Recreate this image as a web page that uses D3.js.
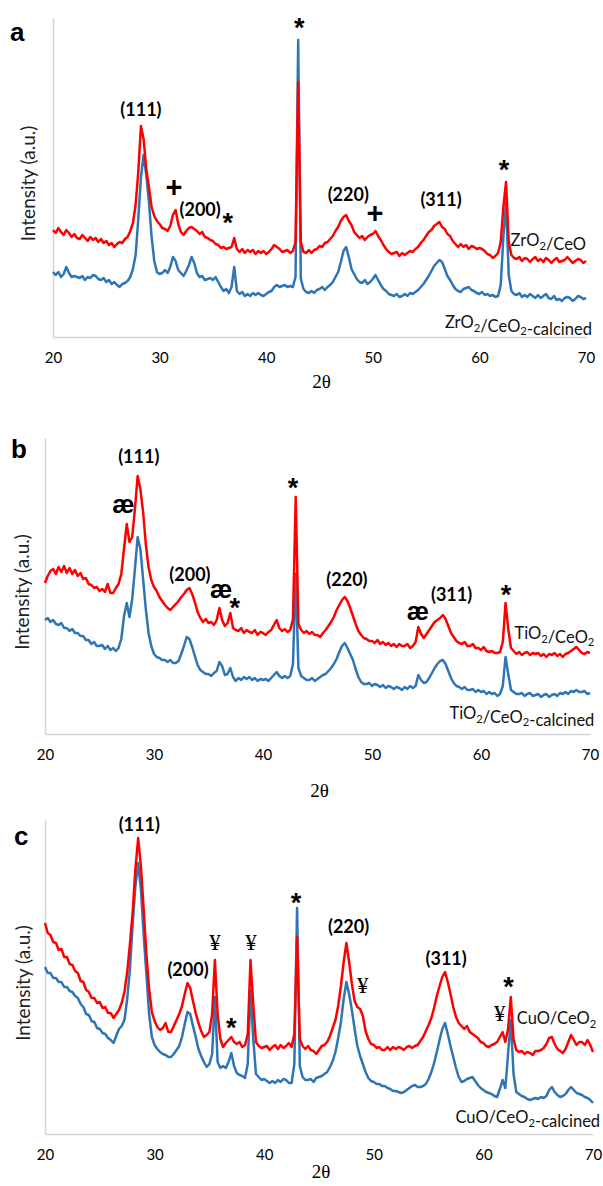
<!DOCTYPE html>
<html>
<head>
<meta charset="utf-8">
<script src="https://cdn.jsdelivr.net/npm/d3@7"></script>
<style>
  body { margin: 0; background: #fff; }
  svg { display: block; }
</style>
</head>
<body>
<svg id="chart" width="603" height="1186"></svg>
<script>
// 2-theta sampling grid, 20..70 every 0.25 degree
const twoTheta = d3.range(0, 201).map(i => 20 + i * 0.25);
const xTicks = [20, 30, 40, 50, 60, 70];

// panel a
const redA = [
  107,104,109,105,102,107,104,100,103,99,98,102,99,96,100,97,99,95,98,94,
  96,92,94,90,93,95,94,98,100,106,114,132,165,211,198,168,150,130,121,116,
  113,109,108,106,111,122,127,113,105,102,106,109,110,108,106,103,105,100,99,97,
  96,93,92,89,90,88,89,90,99,88,85,88,84,87,85,87,83,86,84,86,
  83,85,88,92,90,88,85,86,87,84,86,95,255,95,85,84,87,84,87,88,
  91,90,94,95,98,101,106,110,116,120,122,116,112,105,102,99,101,97,100,102,
  103,106,101,97,92,88,85,83,84,85,81,84,82,84,86,85,88,90,94,97,
  101,105,107,111,113,115,110,108,103,101,96,93,90,93,90,92,88,91,90,88,
  89,88,86,83,82,79,81,84,95,130,155,95,82,79,78,80,76,79,78,75,
  78,80,76,78,75,79,77,74,77,79,75,76,77,80,77,74,76,78,77,74,
  76
];
const blueA = [
  65,62,65,60,63,70,64,60,61,60,59,61,57,60,59,62,61,58,57,59,
  55,57,53,55,52,50,53,54,56,60,68,82,118,160,182,162,135,100,76,65,
  63,64,67,64,70,80,76,67,64,61,66,72,80,74,64,60,61,57,58,59,
  57,60,55,50,46,48,44,50,70,46,43,45,41,43,41,44,42,44,42,41,
  43,45,46,50,52,50,51,52,50,51,50,60,297,58,48,45,44,46,44,47,
  48,50,47,50,52,55,60,65,75,86,90,80,68,63,58,55,54,57,53,55,
  58,62,57,52,48,46,43,42,41,43,40,41,43,41,44,43,45,47,50,53,
  57,61,66,71,74,77,75,68,61,57,52,48,46,45,48,49,50,47,46,44,
  43,45,42,43,41,42,40,41,52,100,135,62,46,43,42,44,40,42,40,43,
  41,39,42,39,41,43,39,38,41,37,38,36,39,40,39,36,38,41,40,38,
  39
];

// panel b
const redB = [
  151,158,163,165,160,167,162,168,161,166,160,164,158,161,155,156,150,149,146,147,
  143,145,142,150,141,141,146,150,160,185,210,192,197,225,258,245,222,190,167,154,
  147,143,137,133,129,126,124,127,130,133,137,140,144,146,140,132,122,116,112,115,
  111,112,109,114,126,114,108,111,121,106,104,103,106,101,104,102,101,104,99,102,
  101,99,102,104,109,114,106,103,105,102,104,115,237,110,104,101,103,100,102,99,
  99,97,101,104,108,112,117,124,129,134,137,133,126,118,110,103,99,96,95,93,
  93,91,94,90,92,89,91,88,90,87,90,88,88,90,86,88,92,107,100,96,
  100,104,108,112,114,116,119,115,108,101,97,93,91,90,92,88,88,90,86,86,
  84,87,83,82,83,81,81,82,92,131,105,86,83,80,82,79,81,82,79,81,
  80,81,78,80,77,80,79,81,78,80,77,80,81,83,85,87,84,81,80,82,
  81
];
const blueB = [
  114,116,112,114,110,109,111,106,106,103,105,101,101,98,98,94,94,90,92,88,
  88,89,85,88,84,86,83,86,95,118,131,117,135,165,197,185,155,125,101,88,
  80,77,76,74,74,72,74,71,71,73,80,88,97,95,87,78,69,64,62,60,
  60,58,61,63,72,68,59,60,66,57,53,56,54,57,55,57,54,56,53,55,
  54,55,53,56,59,62,58,56,58,56,58,70,160,66,58,56,54,54,56,53,
  55,57,59,60,63,66,70,75,82,88,91,86,80,74,65,57,52,50,50,51,
  48,50,49,47,49,46,48,47,45,47,46,44,47,45,48,46,48,59,54,51,
  52,56,61,66,70,73,74,70,63,56,51,48,47,45,47,44,44,45,42,44,
  42,43,40,42,40,41,38,40,48,77,60,44,42,40,40,41,38,40,41,38,
  39,40,37,39,40,37,39,40,38,41,40,42,40,43,42,44,42,42,43,40,
  41
];

// panel c
const redC = [
  211,201,199,192,191,184,185,177,177,170,169,163,161,153,152,144,142,136,136,131,
  132,126,127,121,121,116,120,124,131,142,162,190,222,265,296,268,225,180,145,122,
  113,107,104,106,111,102,102,108,114,120,128,140,151,146,133,121,111,103,97,99,
  102,120,174,120,95,87,91,94,97,92,90,92,87,89,100,174,130,92,88,86,
  87,88,84,87,89,85,89,86,88,91,87,100,197,95,88,85,88,84,83,80,
  84,88,89,92,98,106,114,128,148,172,191,172,150,133,127,125,118,103,95,90,
  89,86,87,84,84,87,84,87,85,87,86,84,87,88,86,88,89,93,97,103,
  109,116,126,138,148,157,162,152,140,127,117,111,108,105,108,102,100,98,96,92,
  91,88,87,89,90,92,97,102,92,105,137,95,84,82,83,80,82,81,79,83,
  83,84,86,90,96,97,90,85,83,81,85,92,99,94,89,92,92,89,94,89,
  82
];
const blueC = [
  167,161,161,156,156,152,152,147,147,143,142,138,136,130,127,120,119,113,112,106,
  105,101,100,96,94,91,98,105,108,114,135,165,210,248,271,245,200,160,120,97,
  89,85,82,80,79,77,77,80,84,88,97,110,122,120,108,97,85,78,72,67,
  70,80,137,72,66,68,66,72,81,68,61,59,58,56,70,144,95,60,57,54,
  55,53,51,53,51,54,52,55,54,51,51,70,226,68,57,54,54,55,52,56,
  57,58,60,62,67,73,82,96,112,135,152,140,124,105,88,78,70,62,56,53,
  52,50,50,48,48,46,45,43,43,42,41,42,44,46,48,49,47,47,48,50,
  55,62,71,82,94,105,111,100,88,77,66,57,52,53,55,56,57,53,49,46,
  44,42,41,40,38,37,45,54,46,80,114,60,42,40,38,37,35,34,35,36,
  35,37,36,38,44,47,42,39,37,38,40,44,47,44,41,40,39,37,36,34,
  31
];

// peak markers: text, 2theta, intensity, kind
const notesA = [
  ["(111)", 28.25, 221, "hkl"], ["+", 31.35, 140, "plus"], ["(200)", 33.8, 121, "hkl"],
  ["*", 36.4, 105, "star"], ["*", 43.1, 300, "star"], ["(220)", 47.7, 136, "hkl"],
  ["+", 50.2, 114, "plus"], ["(311)", 56.4, 131, "hkl"], ["*", 62.3, 158, "star"]
];
const notesB = [
  ["(111)", 28.6, 271, "hkl"], ["æ", 27.2, 221, "ae"], ["(200)", 33.3, 153, "hkl"],
  ["æ", 36.15, 136, "ae"], ["*", 37.4, 117, "star"], ["*", 42.75, 237, "star"],
  ["(220)", 47.7, 148, "hkl"], ["æ", 54.2, 114, "ae"], ["(311)", 57.3, 133, "hkl"],
  ["*", 62.3, 130, "star"]
];
const notesC = [
  ["(111)", 28.6, 303, "hkl"], ["(200)", 33.05, 158, "hkl"], ["¥", 35.5, 184, "yen"],
  ["¥", 38.8, 184, "yen"], ["*", 37.0, 97, "star"], ["*", 42.9, 222, "star"],
  ["(220)", 47.7, 201, "hkl"], ["¥", 49.0, 141, "yen"], ["(311)", 56.6, 169, "hkl"],
  ["¥", 61.5, 113, "yen"], ["*", 62.3, 138, "star"]
];

const panels = [
  { letter: "a", red: redA, blue: blueA, notes: notesA,
    left: 53, right: 586, top: 18, bottom: 337, letterY: 41, letterX: 10, ylabX: 28, xlabY: 388,
    redName: "ZrO_2/CeO", blueName: "ZrO_2/CeO_2-calcined", redLab: [70.0, 91], blueLab: [70.56, 9] },
  { letter: "b", red: redB, blue: blueB, notes: notesB,
    left: 45, right: 590, top: 438, bottom: 734, letterY: 458, letterX: 11, ylabX: 22, xlabY: 797,
    redName: "TiO_2/CeO_2", blueName: "TiO_2/CeO_2-calcined", redLab: [70.4, 95], blueLab: [70.4, 15] },
  { letter: "c", red: redC, blue: blueC, notes: notesC,
    left: 45, right: 593, top: 820, bottom: 1134, letterY: 845, letterX: 14, ylabX: 23, xlabY: 1178,
    redName: "CuO/CeO_2", blueName: "CuO/CeO_2-calcined", redLab: [70.3, 110], blueLab: [70.65, 11] }
];

const svg = d3.select("#chart");
const sans = "Lato, 'Open Sans', sans-serif";

// writes "ZrO_2" style labels with subscript digits
function subText(sel, str, size) {
  str.split(/(_\d)/).filter(s => s).forEach(part => {
    if (part[0] === "_") {
      sel.append("tspan").attr("font-size", size * 0.68).attr("dy", size * 0.22).text(part[1]);
      sel.append("tspan").attr("dy", -size * 0.22).text("");
    } else {
      sel.append("tspan").text(part);
    }
  });
}

const noteStyle = {
  hkl:  { font: sans, size: 18, weight: "bold" },
  plus: { font: "'Liberation Sans', Arial, sans-serif", size: 29, weight: "bold" },
  star: { font: "'Liberation Sans', Arial, sans-serif", size: 27, weight: "bold" },
  ae:   { font: "'Liberation Sans', Arial, sans-serif", size: 25, weight: "bold" },
  yen:  { font: "'Liberation Serif', 'DejaVu Serif', serif", size: 23, weight: "normal" }
};

panels.forEach(p => {
  const g = svg.append("g");
  const x = d3.scaleLinear().domain([20, 70]).range([p.left, p.right]);
  const y = d3.scaleLinear().domain([0, p.bottom - p.top]).range([p.bottom, p.top]);

  // axes: plain grey lines, no ticks
  g.append("g")
    .attr("transform", `translate(0,${p.bottom})`)
    .call(d3.axisBottom(x).tickValues(xTicks).tickSize(0).tickFormat(d3.format("d")))
    .call(a => a.select(".domain").attr("stroke", "#d4d4d4").attr("stroke-width", 1.5))
    .call(a => a.selectAll("text").attr("dy", null).attr("y", 26)
      .attr("font-family", sans).attr("font-size", 15).attr("fill", "#000"));

  g.append("g")
    .attr("transform", `translate(${p.left},0)`)
    .call(d3.axisLeft(y).tickValues([]).tickSizeOuter(0))
    .call(a => a.select(".domain").attr("stroke", "#d4d4d4").attr("stroke-width", 1.5));

  const line = d3.line()
    .x((d, i) => x(twoTheta[i]))
    .y(d => y(d));

  g.append("path").datum(p.blue)
    .attr("d", line).attr("fill", "none")
    .attr("stroke", "#2e75b6").attr("stroke-width", 2.5).attr("stroke-linejoin", "round");
  g.append("path").datum(p.red)
    .attr("d", line).attr("fill", "none")
    .attr("stroke", "#ff0000").attr("stroke-width", 2.5).attr("stroke-linejoin", "round");

  // peak labels
  p.notes.forEach(([t, th, h, kind]) => {
    const s = noteStyle[kind];
    g.append("text")
      .attr("x", x(th)).attr("y", y(h))
      .attr("text-anchor", "middle")
      .attr("font-family", s.font).attr("font-size", s.size).attr("font-weight", s.weight)
      .attr("fill", "#000")
      .text(t);
  });

  // series names
  [[p.redName, p.redLab], [p.blueName, p.blueLab]].forEach(([name, pos]) => {
    const t = g.append("text")
      .attr("x", x(pos[0])).attr("y", y(pos[1]))
      .attr("text-anchor", "end")
      .attr("font-family", sans).attr("font-size", 16.5).attr("fill", "#111");
    subText(t, name, 16.5);
  });

  // panel letter
  g.append("text")
    .attr("x", p.letterX).attr("y", p.letterY)
    .attr("font-family", "'Liberation Sans', Arial, sans-serif")
    .attr("font-size", 26).attr("font-weight", "bold")
    .text(p.letter);

  // axis titles
  g.append("text")
    .attr("transform", `translate(${p.ylabX},${(p.top + p.bottom) / 2 + 6}) rotate(-90)`)
    .attr("text-anchor", "middle").attr("dy", "0.35em")
    .attr("font-family", sans).attr("font-size", 19).attr("fill", "#222")
    .text("Intensity (a.u.)");

  g.append("text")
    .attr("x", (p.left + p.right) / 2 + 2).attr("y", p.xlabY)
    .attr("text-anchor", "middle")
    .attr("font-family", "'Liberation Serif', 'DejaVu Serif', serif")
    .attr("font-size", 19)
    .text("2θ");
});
</script>
</body>
</html>
